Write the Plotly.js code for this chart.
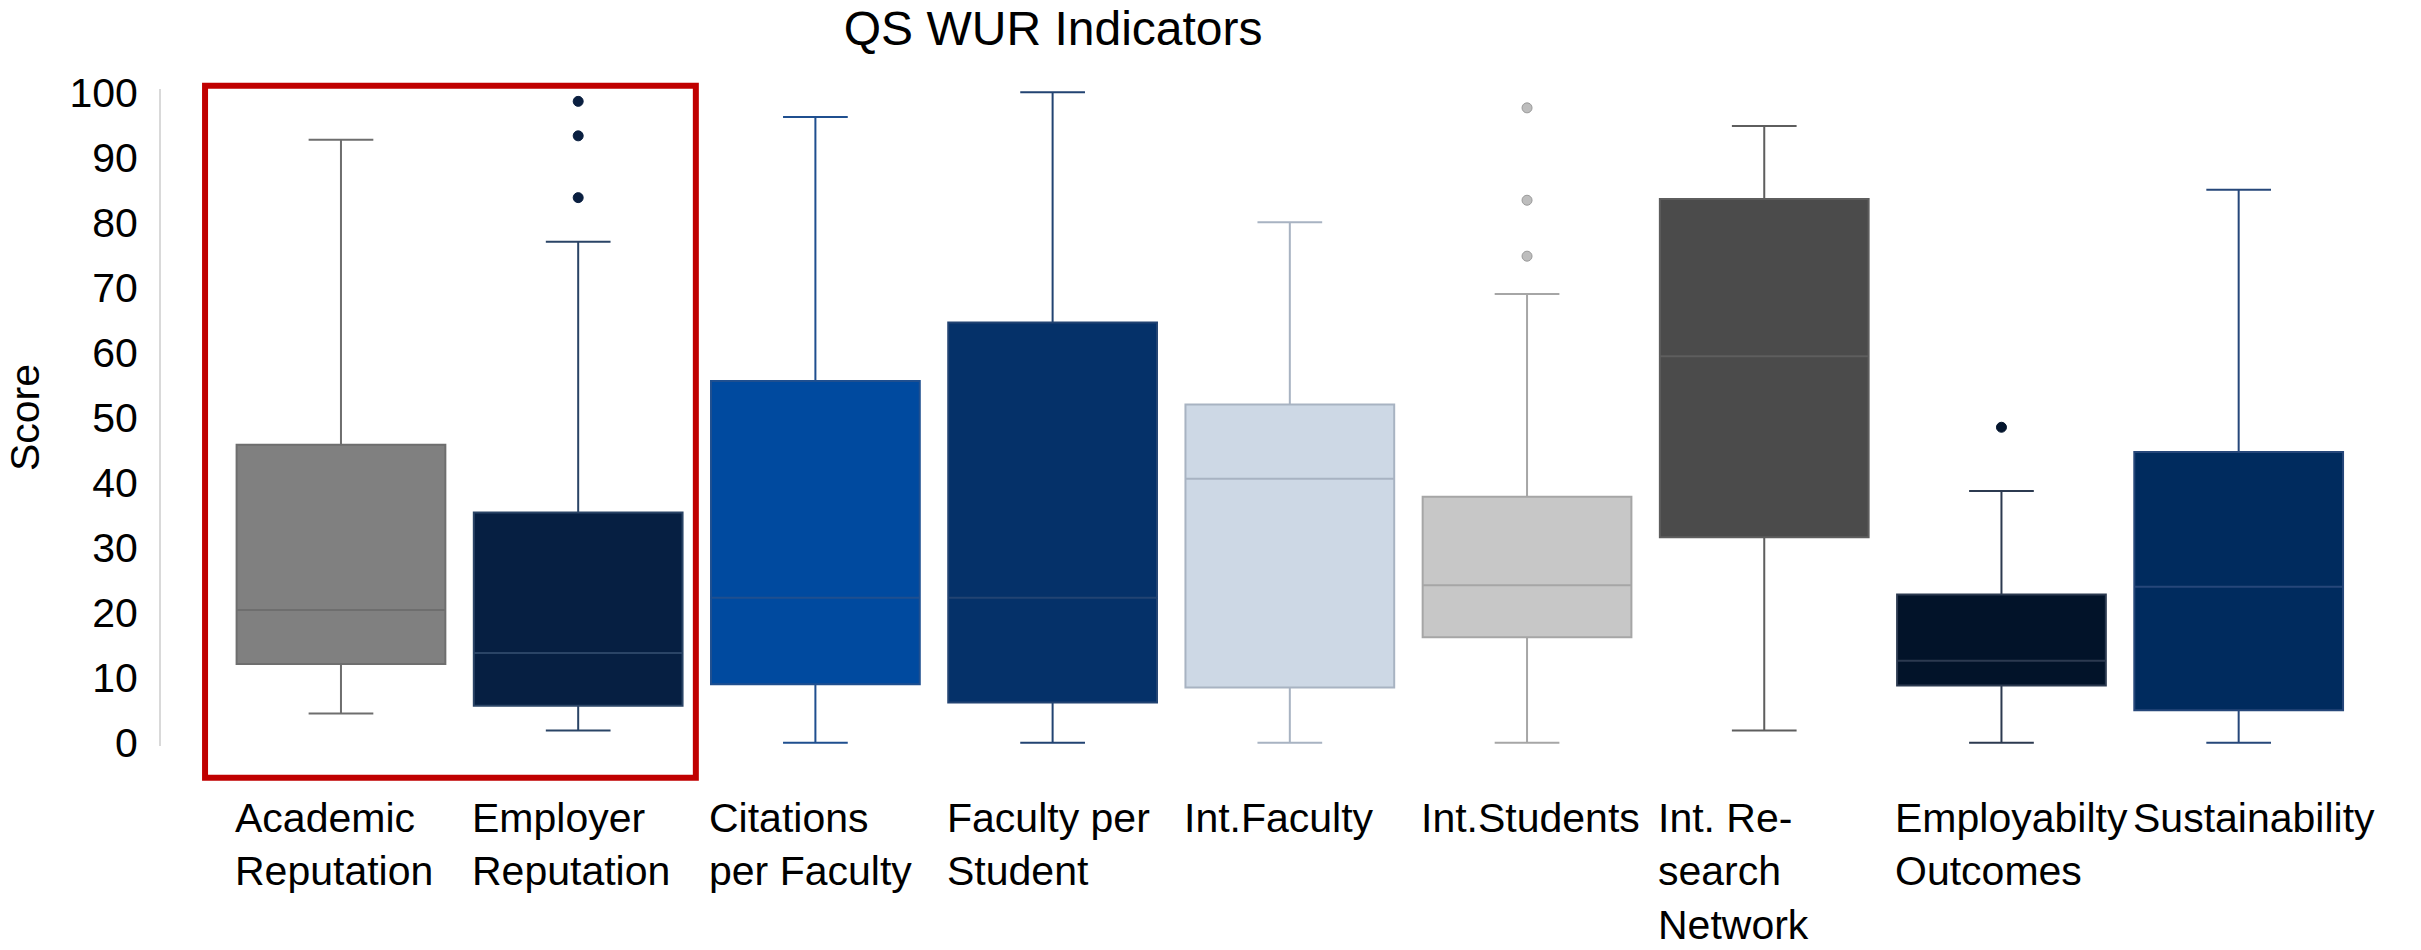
<!DOCTYPE html>
<html>
<head>
<meta charset="utf-8">
<script src="https://cdn.plot.ly/plotly-3.0.1.min.js"></script>
<style>html,body{margin:0;padding:0;background:#fff;}#chart{width:2421px;height:950px;}</style>
</head>
<body>
<div id="chart"></div>
<script>
// ---- data ----
const categories = ["Academic Reputation", "Employer Reputation", "Citations per Faculty", "Faculty per Student",
  "Int.Faculty", "Int.Students", "Int. Research Network", "Employabilty Outcomes", "Sustainability"];
const tickLabels = ["Academic<br>Reputation", "Employer<br>Reputation", "Citations<br>per Faculty", "Faculty per<br>Student",
  "Int.Faculty", "Int.Students", "Int. Re-<br>search<br>Network", "Employabilty<br>Outcomes", "Sustainability"];
const lowerWhisker = [4.5, 1.9, 0, 0, 0, 0, 1.9, 0, 0];
const q1Values     = [12.1, 5.7, 9.0, 6.2, 8.5, 16.2, 31.6, 8.8, 5.0];
const medianValues = [20.4, 13.8, 22.3, 22.3, 40.6, 24.2, 59.4, 12.6, 24.0];
const q3Values     = [45.8, 35.4, 55.6, 64.6, 52.0, 37.8, 83.6, 22.8, 44.7];
const upperWhisker = [92.7, 77.0, 96.2, 100, 80.0, 69.0, 94.8, 38.7, 85.0];
const employerOutliers = [98.6, 93.3, 83.8];
const intStudentsOutliers = [97.6, 83.4, 74.8];
const employabilityOutliers = [48.5];
const fillColors = ["#808080", "#061f42", "#004a9f", "#053169", "#cdd8e5", "#c7c7c7", "#4b4b4b", "#021329", "#002b5e"];
const lineColors = ["#6e6e6e", "#2a4466", "#1f4f8f", "#224372", "#a8b3c2", "#a6a6a6", "#5e5e5e", "#2c3a50", "#26477a"];

// ---- traces ----
const traces = categories.map((c, i) => ({
  type: "box",
  x: [c],
  q1: [q1Values[i]],
  median: [medianValues[i]],
  q3: [q3Values[i]],
  lowerfence: [lowerWhisker[i]],
  upperfence: [upperWhisker[i]],
  boxpoints: false,
  fillcolor: fillColors[i],
  line: {color: lineColors[i], width: 2},
  width: 0.88,
  whiskerwidth: 0.31,
  hoverinfo: "skip",
  showlegend: false
}));

function outlierTrace(cat, vals, color, edge) {
  return {
    type: "scatter", mode: "markers",
    x: vals.map(() => cat), y: vals,
    marker: {color: color, size: 10, line: {color: edge, width: 1}},
    hoverinfo: "skip", showlegend: false
  };
}
traces.push(outlierTrace(categories[1], employerOutliers, "#0a1f40", "#0a1f40"));
traces.push(outlierTrace(categories[5], intStudentsOutliers, "#bdbdbd", "#9a9a9a"));
traces.push(outlierTrace(categories[7], employabilityOutliers, "#04152d", "#04152d"));

// ---- layout ----
const FONT = "Liberation Sans, Arial, sans-serif";
const M = {l: 161, r: 40, t: 89, b: 204};
const W = 2421, H = 950;
const xr = [-0.7587, 8.6], yr = [-0.5, 100.5];
const px = v => (v - xr[0]) / (xr[1] - xr[0]);

const annotations = categories.map((c, i) => ({
  x: c, xref: "x", xshift: -108, y: -0.071, yref: "paper",
  text: tickLabels[i], showarrow: false,
  xanchor: "left", yanchor: "top", align: "left",
  font: {family: FONT, size: 41, color: "#000"}
}));

const layout = {
  width: W, height: H,
  margin: M,
  paper_bgcolor: "#fff", plot_bgcolor: "#fff",
  title: {text: "QS WUR Indicators", x: 0.435, xref: "container", xanchor: "center",
          y: 1 - 28 / H, yref: "container", yanchor: "middle",
          font: {family: FONT, size: 48, color: "#000"}},
  xaxis: {type: "category", range: xr, showticklabels: false, showline: false, showgrid: false,
          zeroline: false, ticks: "", fixedrange: true},
  yaxis: {range: yr, tickvals: [0,10,20,30,40,50,60,70,80,90,100], showgrid: false, zeroline: false,
          showline: true, linecolor: "#d9d9d9", linewidth: 2, ticks: "", ticklabelstandoff: 13,
          tickfont: {family: FONT, size: 41, color: "#000"},
          title: {text: "Score", standoff: 17, font: {family: FONT, size: 41, color: "#000"}},
          automargin: false},
  annotations: annotations,
  shapes: [{
    type: "rect", xref: "paper", yref: "paper",
    x0: px(-0.573), x1: px(1.496),
    y0: (-5.4 - yr[0]) / (yr[1] - yr[0]), y1: (101.0 - yr[0]) / (yr[1] - yr[0]),
    line: {color: "#c00000", width: 6}, fillcolor: "rgba(0,0,0,0)", layer: "above"
  }],
  showlegend: false
};

Plotly.newPlot("chart", traces, layout, {staticPlot: true, displayModeBar: false});
</script>
</body>
</html>
